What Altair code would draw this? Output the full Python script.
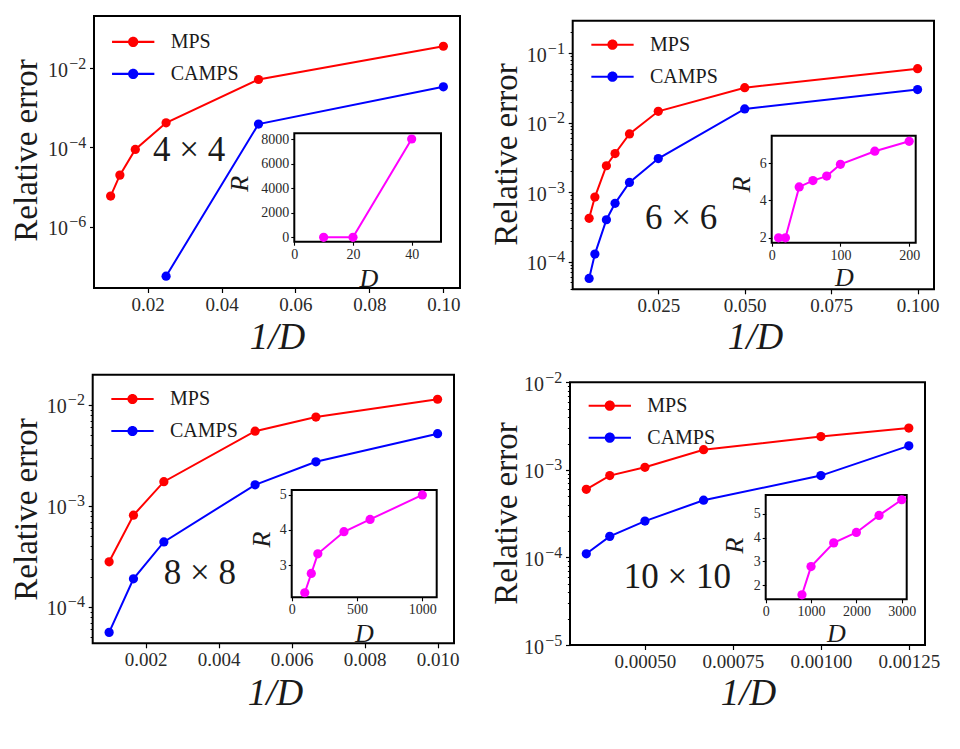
import altair as alt
import pandas as pd

# ---------------- data ----------------
SERIES = ["MPS", "CAMPS"]
SERIES_COLORS = ["#ff0000", "#0000ff"]
INSET_COLOR = "#ff00ff"

# 4 x 4 lattice
L4_D_MPS = [100, 80, 60, 40, 20, 10]
L4_MPS = [5.9e-6, 2.0e-5, 8.9e-5, 4.2e-4, 5.2e-3, 3.6e-2]
L4_D_CAMPS = [40, 20, 10]
L4_CAMPS = [5.6e-8, 3.9e-4, 3.4e-3]
L4_INSET_D = [10, 20, 40]
L4_INSET_R = [2, 2, 8000]

# 6 x 6 lattice
L6_D = [200, 150, 100, 80, 60, 40, 20, 10]
L6_MPS = [4.2e-4, 8.5e-4, 2.4e-3, 3.6e-3, 6.9e-3, 1.46e-2, 3.2e-2, 6.0e-2]
L6_CAMPS = [5.7e-5, 1.28e-4, 4.0e-4, 6.9e-4, 1.38e-3, 3.05e-3, 1.58e-2, 3.0e-2]
L6_INSET_D = [10, 20, 40, 60, 80, 100, 150, 200]
L6_INSET_R = [2.0, 2.0, 4.72, 5.06, 5.30, 5.93, 6.63, 7.16]

# 8 x 8 lattice
L8_D = [1000, 600, 400, 200, 150, 100]
L8_MPS = [2.8e-4, 8.1e-4, 1.74e-3, 5.5e-3, 7.6e-3, 1.14e-2]
L8_CAMPS = [5.6e-5, 1.9e-4, 4.4e-4, 1.62e-3, 2.74e-3, 5.2e-3]
L8_INSET_D = [100, 150, 200, 400, 600, 1000]
L8_INSET_R = [2.21, 2.76, 3.32, 3.95, 4.30, 5.0]

# 10 x 10 lattice
L10_D = [3000, 2500, 2000, 1500, 1000, 800]
L10_MPS = [6.0e-4, 8.6e-4, 1.07e-3, 1.7e-3, 2.4e-3, 3.0e-3]
L10_CAMPS = [1.1e-4, 1.74e-4, 2.6e-4, 4.5e-4, 8.6e-4, 1.88e-3]
L10_INSET_D = [800, 1000, 1500, 2000, 2500, 3000]
L10_INSET_R = [1.59, 2.78, 3.78, 4.22, 4.94, 5.6]

# axis ranges and ticks
L4_XDOM = [0.0055, 0.1045]
L4_YDOM = [10 ** -7.55, 10 ** -0.68]
L4_XTICKS = [0.02, 0.04, 0.06, 0.08, 0.10]
L4_YTICKS = [1e-2, 1e-4, 1e-6]
L4_IXDOM = [0, 50]
L4_IYDOM = [-358, 8464]
L4_IXTICKS = [0, 20, 40]
L4_IYTICKS = [0, 2000, 4000, 6000, 8000]

L6_XDOM = [0.00025, 0.10475]
L6_YDOM = [10 ** -4.40, 10 ** -0.53]
L6_XTICKS = [0.025, 0.05, 0.075, 0.1]
L6_YTICKS = [1e-1, 1e-2, 1e-3, 1e-4]
L6_IXDOM = [0, 209.5]
L6_IYDOM = [1.74, 7.46]
L6_IXTICKS = [0, 100, 200]
L6_IYTICKS = [2, 4, 6]

L8_XDOM = [0.00055, 0.01045]
L8_YDOM = [10 ** -4.36, 10 ** -1.70]
L8_XTICKS = [0.002, 0.004, 0.006, 0.008, 0.010]
L8_YTICKS = [1e-2, 1e-3, 1e-4]
L8_IXDOM = [0, 1110]
L8_IYDOM = [2.08, 5.14]
L8_IXTICKS = [0, 500, 1000]
L8_IYTICKS = [3, 4, 5]

L10_XDOM = [0.000287, 0.001296]
L10_YDOM = [1e-5, 1e-2]
L10_XTICKS = [0.0005, 0.00075, 0.001, 0.00125]
L10_YTICKS = [1e-2, 1e-3, 1e-4, 1e-5]
L10_IXDOM = [0, 3110]
L10_IYDOM = [1.4, 5.8]
L10_IXTICKS = [0, 1000, 2000, 3000]
L10_IYTICKS = [2, 3, 4, 5]

# minor log ticks (mantissas) shown on the panels with one label per decade
MINOR_MANTISSAS = [2, 3, 4, 5, 6, 7, 8, 9]
MINOR_DECADES = [[], [-5, -4, -3, -2, -1], [-5, -4, -3, -2], [-6, -5, -4, -3]]

# panel labels and where they sit (data coordinates of each panel)
LABELS = ["4 × 4", "6 × 6", "8 × 8", "10 × 10"]
LABEL_X = [0.0312, 0.0316, 0.00349, 0.000592]
LABEL_Y = [8.7e-5, 4.3e-4, 2.16e-4, 6.0e-5]

# ---------------- layout (pixels inside the canvas) ----------------
W, H = 944, 733
FONT = "Liberation Serif"
LEGEND_SYMBOL = ("M-1,-0.05H1V0.05H-1Z "
                 "M0.24,0A0.24,0.24,0,1,1,-0.24,0A0.24,0.24,0,1,1,0.24,0Z")

LAYOUT = [
    dict(frame=(86, 452, 8, 280), inset=(286.3, 433, 125.3, 233.7),
         ytitle=(18.5, 142), xtitle=(269, 329), rtitle=(232, 175.3), dtitle=(360.3, 270),
         legend=(103.7, 12.4), xfmt=".2f"),
    dict(frame=(564.7, 926, 12.7, 281.3), inset=(763.7, 907.7, 127.7, 234.7),
         ytitle=(498.5, 146), xtitle=(747, 329), rtitle=(733, 176), dtitle=(836, 269.5),
         legend=(583, 15.2), xfmt=".3f"),
    dict(frame=(84.7, 446, 366.7, 635.3), inset=(283.7, 428.7, 482, 589.3),
         ytitle=(18.5, 501), xtitle=(267, 685), rtitle=(253, 531), dtitle=(356, 625),
         legend=(103, 369.5), xfmt=".3f"),
    dict(frame=(562, 917, 374.3, 637), inset=(757.7, 898.7, 487, 591.3),
         ytitle=(498.5, 505), xtitle=(740, 685), rtitle=(726, 537), dtitle=(828, 625),
         legend=(580.3, 376.2), xfmt=".5f"),
]

PANELS = [
    dict(dm=L4_D_MPS, mps=L4_MPS, dc=L4_D_CAMPS, camps=L4_CAMPS, idd=L4_INSET_D, ir=L4_INSET_R,
         xdom=L4_XDOM, ydom=L4_YDOM, xt=L4_XTICKS, yt=L4_YTICKS,
         ixdom=L4_IXDOM, iydom=L4_IYDOM, ixt=L4_IXTICKS, iyt=L4_IYTICKS),
    dict(dm=L6_D, mps=L6_MPS, dc=L6_D, camps=L6_CAMPS, idd=L6_INSET_D, ir=L6_INSET_R,
         xdom=L6_XDOM, ydom=L6_YDOM, xt=L6_XTICKS, yt=L6_YTICKS,
         ixdom=L6_IXDOM, iydom=L6_IYDOM, ixt=L6_IXTICKS, iyt=L6_IYTICKS),
    dict(dm=L8_D, mps=L8_MPS, dc=L8_D, camps=L8_CAMPS, idd=L8_INSET_D, ir=L8_INSET_R,
         xdom=L8_XDOM, ydom=L8_YDOM, xt=L8_XTICKS, yt=L8_YTICKS,
         ixdom=L8_IXDOM, iydom=L8_IYDOM, ixt=L8_IXTICKS, iyt=L8_IYTICKS),
    dict(dm=L10_D, mps=L10_MPS, dc=L10_D, camps=L10_CAMPS, idd=L10_INSET_D, ir=L10_INSET_R,
         xdom=L10_XDOM, ydom=L10_YDOM, xt=L10_XTICKS, yt=L10_YTICKS,
         ixdom=L10_IXDOM, iydom=L10_IYDOM, ixt=L10_IXTICKS, iyt=L10_IYTICKS),
]

TEXT_COLOR = "#1a1a1a"
LABEL_COLOR = "#2a2a2a"
MAJOR_TICK = 4.5


def main_panel(i):
    p, g = PANELS[i], LAYOUT[i]
    l, r, t, b = g["frame"]

    def xs():
        return alt.Scale(domain=p["xdom"], range=[l, r], nice=False, zero=False)

    def ys():
        return alt.Scale(type="log", domain=p["ydom"], range=[b, t], nice=False)

    cs = alt.Scale(domain=SERIES, range=SERIES_COLORS)

    df = pd.concat([
        pd.DataFrame({"x": [1 / d for d in p["dm"]], "err": p["mps"], "series": "MPS"}),
        pd.DataFrame({"x": [1 / d for d in p["dc"]], "err": p["camps"], "series": "CAMPS"}),
    ])
    frame_df = pd.DataFrame({"x0": [p["xdom"][0]], "x1": [p["xdom"][1]],
                             "y0": [p["ydom"][0]], "y1": [p["ydom"][1]]})
    ann_df = pd.DataFrame({"x": [LABEL_X[i]], "y": [LABEL_Y[i]], "label": [LABELS[i]]})
    minor = [m * 10.0 ** k for k in MINOR_DECADES[i] for m in MINOR_MANTISSAS
             if p["ydom"][0] <= m * 10.0 ** k <= p["ydom"][1]]

    common = dict(grid=False, domain=False, labelFlush=False, labelOverlap=False,
                  labelFont=FONT, labelColor=LABEL_COLOR)
    xaxis = alt.Axis(orient="bottom", offset=b - H, values=p["xt"], format=g["xfmt"],
                     tickSize=MAJOR_TICK, tickWidth=1.2, tickColor="black",
                     labelFontSize=19, labelPadding=3,
                     title="1/D", titleFont=FONT, titleFontSize=37, titleFontStyle="italic",
                     titleFontWeight="normal", titleColor=TEXT_COLOR,
                     titleX=g["xtitle"][0], titleY=g["xtitle"][1] - b,
                     titleBaseline="middle", titleAlign="center", titleAngle=0, **common)
    # mantissa "10" of each log label
    yaxis = alt.Axis(orient="left", offset=-l, values=p["yt"], labelExpr="'10'",
                     tickSize=MAJOR_TICK, tickWidth=1.2, tickColor="black",
                     labelFontSize=20, labelPadding=22, labelOffset=2,
                     title="Relative error", titleFont=FONT, titleFontSize=33,
                     titleFontWeight="normal", titleColor=TEXT_COLOR,
                     titleX=g["ytitle"][0] - l, titleY=g["ytitle"][1],
                     titleBaseline="middle", titleAlign="center", titleAngle=270, **common)
    # exponent of each log label
    yexp = alt.Axis(orient="left", offset=-l, values=p["yt"],
                    labelExpr="'−' + round(-log(datum.value)/LN10)",
                    tickSize=MAJOR_TICK, tickOpacity=0, labelFontSize=16, labelPadding=3.8,
                    labelOffset=-5, title=None, **common)
    ymin = alt.Axis(orient="left", offset=-l, values=minor if minor else [p["ydom"][0]],
                    labels=False, tickSize=2.6, tickWidth=1, tickColor="black",
                    tickOpacity=1 if minor else 0, title=None, **common)
    legend = alt.Legend(orient="none", legendX=g["legend"][0], legendY=g["legend"][1],
                        title=None, symbolType=LEGEND_SYMBOL, symbolSize=1790,
                        symbolStrokeWidth=0, labelFont=FONT, labelFontSize=20,
                        labelColor=TEXT_COLOR, labelOffset=16, rowPadding=-16.3, padding=0)

    frame = alt.Chart(frame_df).mark_rect(fill="white", stroke="black", strokeWidth=2).encode(
        x=alt.X("x0:Q", scale=xs(), axis=xaxis), x2="x1:Q",
        y=alt.Y("y0:Q", scale=ys(), axis=yaxis), y2="y1:Q")
    lines = alt.Chart(df).mark_line(strokeWidth=2).encode(
        x=alt.X("x:Q", scale=xs(), axis=None),
        y=alt.Y("err:Q", scale=ys(), axis=yexp),
        stroke=alt.Stroke("series:N", scale=cs, legend=None))
    points = alt.Chart(df).mark_point(filled=True, size=85, opacity=1).encode(
        x=alt.X("x:Q", scale=xs(), axis=None),
        y=alt.Y("err:Q", scale=ys(), axis=ymin),
        fill=alt.Fill("series:N", scale=cs, legend=legend))
    ann = alt.Chart(ann_df).mark_text(font=FONT, fontSize=35, color=TEXT_COLOR).encode(
        x=alt.X("x:Q", scale=xs(), axis=None),
        y=alt.Y("y:Q", scale=ys(), axis=None),
        text="label:N")
    return [frame, lines, points, ann]


def inset_panel(i):
    p, g = PANELS[i], LAYOUT[i]
    l, r, t, b = g["inset"]

    def xs():
        return alt.Scale(domain=p["ixdom"], range=[l, r], nice=False, zero=False)

    def ys():
        return alt.Scale(domain=p["iydom"], range=[b, t], nice=False, zero=False)

    df = pd.DataFrame({"D": p["idd"], "R": p["ir"]})
    frame_df = pd.DataFrame({"x0": [p["ixdom"][0]], "x1": [p["ixdom"][1]],
                             "y0": [p["iydom"][0]], "y1": [p["iydom"][1]]})
    common = dict(grid=False, domain=False, labelFlush=False, labelOverlap=False,
                  labelFont=FONT, labelColor=LABEL_COLOR, zindex=2,
                  tickSize=3.5, tickWidth=1.1, tickColor="black",
                  labelFontSize=14, labelPadding=2, titleFont=FONT, titleFontSize=26,
                  titleFontStyle="italic", titleFontWeight="normal", titleColor=TEXT_COLOR,
                  titleBaseline="middle", titleAlign="center")
    xaxis = alt.Axis(orient="bottom", offset=b - H, values=p["ixt"], format="d",
                     title="D", titleX=g["dtitle"][0], titleY=g["dtitle"][1] - b,
                     titleAngle=0, **common)
    yaxis = alt.Axis(orient="left", offset=-l, values=p["iyt"], format="d",
                     title="R", titleX=g["rtitle"][0] - l, titleY=g["rtitle"][1],
                     titleAngle=270, **common)
    frame = alt.Chart(frame_df).mark_rect(fill="white", stroke="black", strokeWidth=2).encode(
        x=alt.X("x0:Q", scale=xs(), axis=xaxis), x2="x1:Q",
        y=alt.Y("y0:Q", scale=ys(), axis=yaxis), y2="y1:Q")
    line = alt.Chart(df).mark_line(strokeWidth=2, color=INSET_COLOR).encode(
        x=alt.X("D:Q", scale=xs(), axis=None),
        y=alt.Y("R:Q", scale=ys(), axis=None))
    pts = alt.Chart(df).mark_point(filled=True, size=85, opacity=1, color=INSET_COLOR).encode(
        x=alt.X("D:Q", scale=xs(), axis=None),
        y=alt.Y("R:Q", scale=ys(), axis=None))
    return [frame, line, pts]


layers = []
for k in range(4):
    layers += main_panel(k)
    layers += inset_panel(k)

chart = alt.layer(*layers).resolve_scale(
    x="independent", y="independent", fill="independent", stroke="independent"
).resolve_axis(x="independent", y="independent"
).resolve_legend(fill="independent", stroke="independent"
).properties(
    width=W, height=H, padding=0, autosize=alt.AutoSizeParams(type="none")
).configure_view(stroke=None)

chart.save("out.html", embed_options={"renderer": "svg", "actions": False})
